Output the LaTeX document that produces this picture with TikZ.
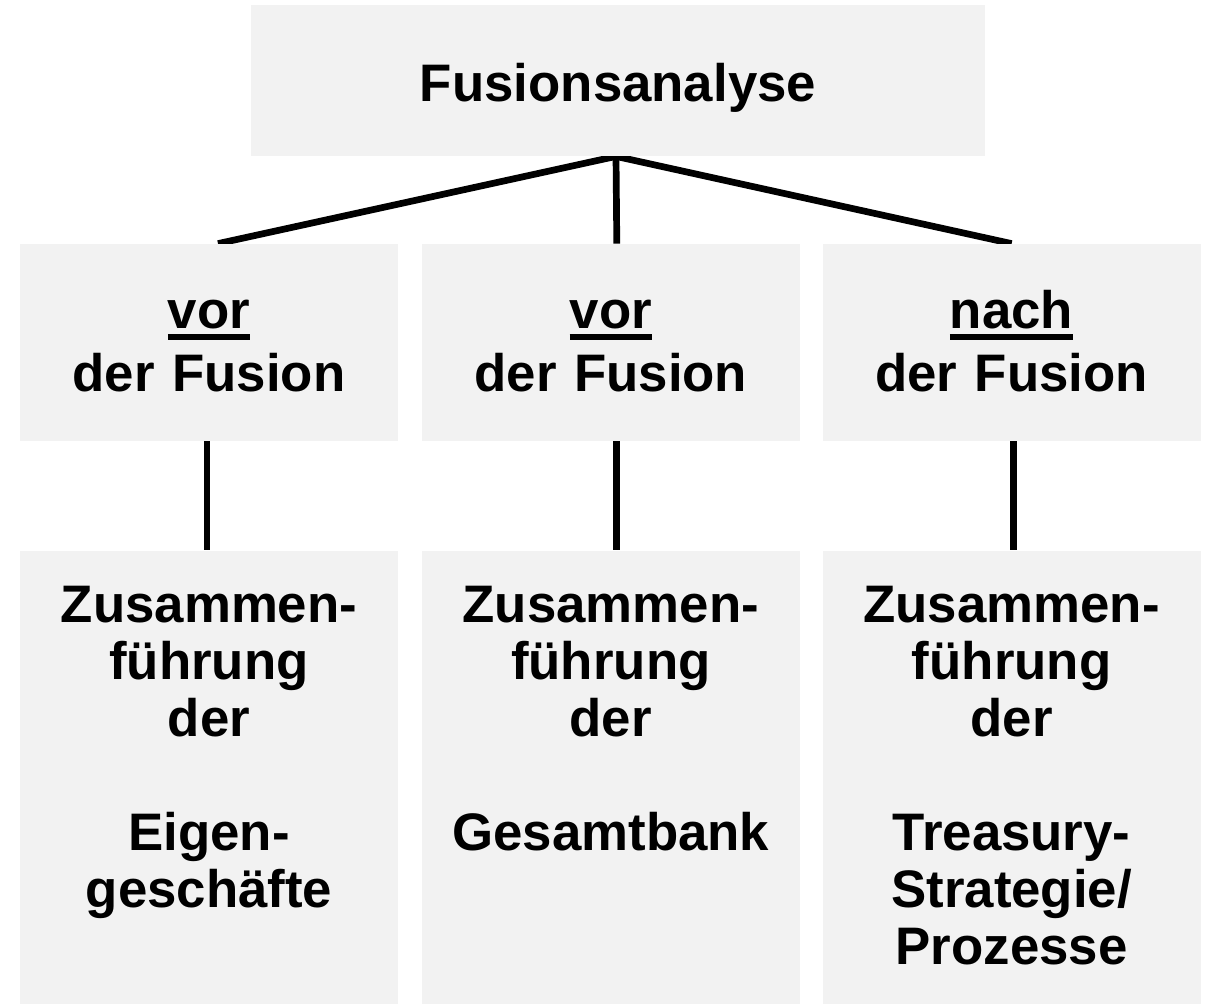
\documentclass[tikz,border=0pt]{standalone}
\usepackage{fontspec}
\setmainfont{Liberation Sans}
\usetikzlibrary{positioning,backgrounds}
\definecolor{boxgray}{RGB}{242,242,242}
\newcommand{\ulword}[1]{\setbox0\hbox{#1}\rlap{\rule[-6pt]{\wd0}{2.8pt}}\box0}

\begin{document}
\begin{tikzpicture}[x=0.5pt,y=-0.5pt,
    every node/.style={fill=boxgray,inner sep=0pt,align=center,font=\bfseries\fontsize{26.4}{28.5}\selectfont},
    head/.style={text width=367pt,text height=48.5pt,text depth=27pt},
    phase/.style={text width=189pt,text height=42pt,text depth=56.5pt,font=\bfseries\fontsize{26.4}{31.5}\selectfont},
    task/.style={text width=189pt,text height=36pt,text depth=190.5pt},
    link/.style={line width=3.35pt}]
    \useasboundingbox (0,0) rectangle (1208,1006);
    \node [head] (top) at (618,80.5) {Fusionsanalyse};
    \node [phase] (m1) at (209,342.5) {\ulword{vor}\\der Fusion};
    \node [phase, right=11.5pt of m1] (m2) {\ulword{vor}\\der Fusion};
    \node [phase, right=11pt of m2] (m3) {\ulword{nach}\\der Fusion};
    \node [task, below=54.5pt of m1] (b1) {Zusammen-\\führung\\der\\[28.5pt]Eigen-\\geschäfte};
    \node [task, below=54.5pt of m2] (b2) {Zusammen-\\führung\\der\\[28.5pt]Gesamtbank};
    \node [task, below=54.5pt of m3] (b3) {Zusammen-\\führung\\der\\[28.5pt]Treasury-\\Strategie/\\Prozesse};
    \begin{scope}[on background layer]
    \draw [link] ([xshift=-1pt]top.south) -- ([xshift=4.5pt]m1.north);
    \draw [link] ([xshift=-1pt]top.south) -- ([xshift=3pt]m2.north);
    \draw [link] ([xshift=-1pt]top.south) -- (m3.north);
    \draw [link] ([xshift=-1pt]m1.south) -- ([xshift=-1pt]b1.north);
    \draw [link] ([xshift=3pt]m2.south) -- ([xshift=3pt]b2.north);
    \draw [link] ([xshift=1pt]m3.south) -- ([xshift=1pt]b3.north);
    \end{scope}
\end{tikzpicture}
\end{document}
